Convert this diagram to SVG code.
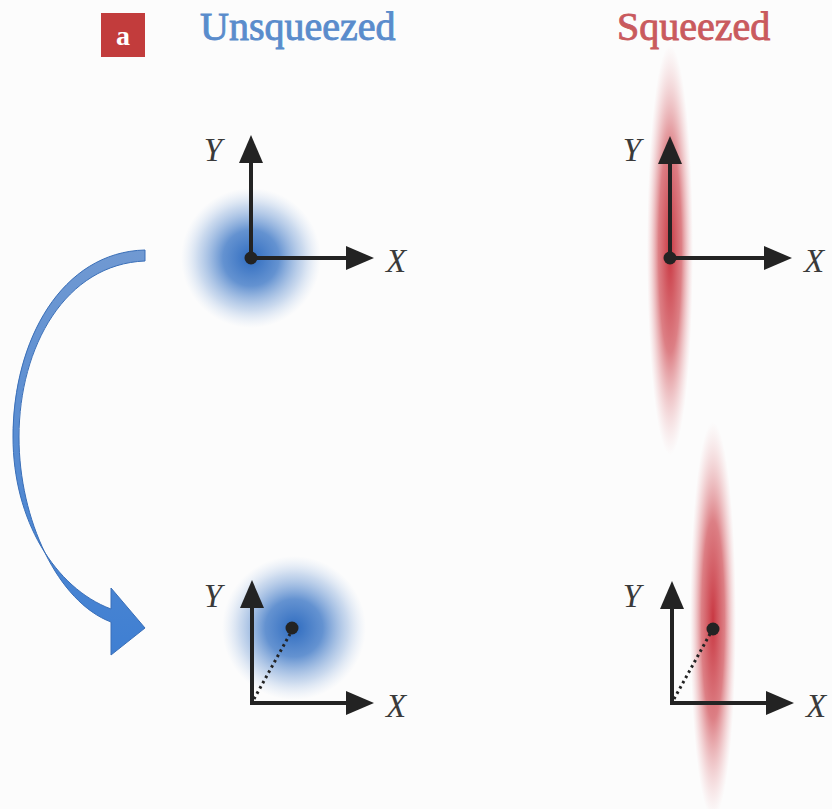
<svg xmlns="http://www.w3.org/2000/svg" width="832" height="809" viewBox="0 0 832 809">
<style>
.ax{stroke:#232323;stroke-width:4;fill:none;stroke-linejoin:miter}
.ah{fill:#232323}
.lbl{font-family:"Liberation Serif","Times New Roman",serif;font-style:italic;font-size:33px;fill:#3a3a3a;text-anchor:middle}
.ttl{font-family:"Liberation Serif","Times New Roman",serif;font-size:40px;stroke-width:0.9}
</style>
<defs>
<radialGradient id="gb" cx="0.5" cy="0.5" r="0.5">
<stop offset="0" stop-color="#2f6cc0" stop-opacity="1"/>
<stop offset="0.4" stop-color="#3e78c6" stop-opacity="0.8"/>
<stop offset="0.75" stop-color="#6f9ad4" stop-opacity="0.35"/>
<stop offset="1" stop-color="#a8c2e6" stop-opacity="0"/>
</radialGradient>
<radialGradient id="gr" cx="0.5" cy="0.5" r="0.5">
<stop offset="0" stop-color="#c62d38" stop-opacity="0.95"/>
<stop offset="0.5" stop-color="#cf4a52" stop-opacity="0.7"/>
<stop offset="1" stop-color="#e8a0a4" stop-opacity="0"/>
</radialGradient>
<linearGradient id="ga" x1="0" y1="0" x2="0" y2="1">
<stop offset="0" stop-color="#7099d2"/>
<stop offset="1" stop-color="#3f7fd2"/>
</linearGradient>
</defs>
<rect width="832" height="809" fill="#fcfcfc"/>

<g id="header">
<rect x="101" y="13" width="44" height="44" fill="#c23c3c"/>
<text x="123" y="45" text-anchor="middle" font-family="Liberation Serif, serif" font-weight="bold" font-size="28" fill="#ffffff">a</text>
<text class="ttl" x="200" y="40" fill="#5a8ccc" stroke="#5a8ccc">Unsqueezed</text>
<text class="ttl" x="617" y="40" fill="#c95a5e" stroke="#c95a5e">Squeezed</text>
</g>

<g id="unsq-top">
<circle cx="251" cy="258" r="70" fill="url(#gb)"/>
<path class="ax" d="M251,160 V258 H350"/>
<polygon class="ah" points="251,135 239,163 263,163"/>
<polygon class="ah" points="374,258 346,246 346,270"/>
<circle cx="251" cy="258" r="6.5" fill="#232323"/>
<text class="lbl" x="213" y="161">Y</text>
<text class="lbl" x="396" y="272">X</text>
</g>

<g id="sq-top">
<ellipse cx="670" cy="250" rx="23" ry="205" fill="url(#gr)"/>
<path class="ax" d="M670,161 V258 H768"/>
<polygon class="ah" points="670,136 658,164 682,164"/>
<polygon class="ah" points="792,258 764,246 764,270"/>
<circle cx="670" cy="258" r="6.5" fill="#232323"/>
<text class="lbl" x="632" y="161">Y</text>
<text class="lbl" x="814" y="272">X</text>
</g>

<g id="unsq-bottom">
<circle cx="294" cy="628" r="72" fill="url(#gb)"/>
<path class="ax" d="M252,605 V703 H350"/>
<polygon class="ah" points="252,580 240,608 264,608"/>
<polygon class="ah" points="374,703 346,691 346,715"/>
<line x1="254" y1="699" x2="290" y2="634" stroke="#232323" stroke-width="3" stroke-dasharray="2.5,3.5"/>
<circle cx="292" cy="628" r="6.5" fill="#232323"/>
<text class="lbl" x="213" y="607">Y</text>
<text class="lbl" x="396" y="717">X</text>
</g>

<g id="sq-bottom">
<ellipse cx="713" cy="620" rx="23" ry="198" fill="url(#gr)"/>
<path class="ax" d="M672,606 V703 H770"/>
<polygon class="ah" points="672,581 660,609 684,609"/>
<polygon class="ah" points="794,703 766,691 766,715"/>
<line x1="674" y1="699" x2="710" y2="634" stroke="#232323" stroke-width="3" stroke-dasharray="2.5,3.5"/>
<circle cx="713" cy="629" r="6.5" fill="#232323"/>
<text class="lbl" x="632" y="607">Y</text>
<text class="lbl" x="816" y="717">X</text>
</g>

<g id="connectors">
<path d="M145,250 C62,252 13,340 13,437 C13,520 55,588 111,609 L111,588 L145,628 L111,655 L111,622 C58,602 19,520 19,437 C19,346 66,264 145,261 Z" fill="url(#ga)" stroke="#3a6fb8" stroke-width="1"/>
</g>
</svg>
